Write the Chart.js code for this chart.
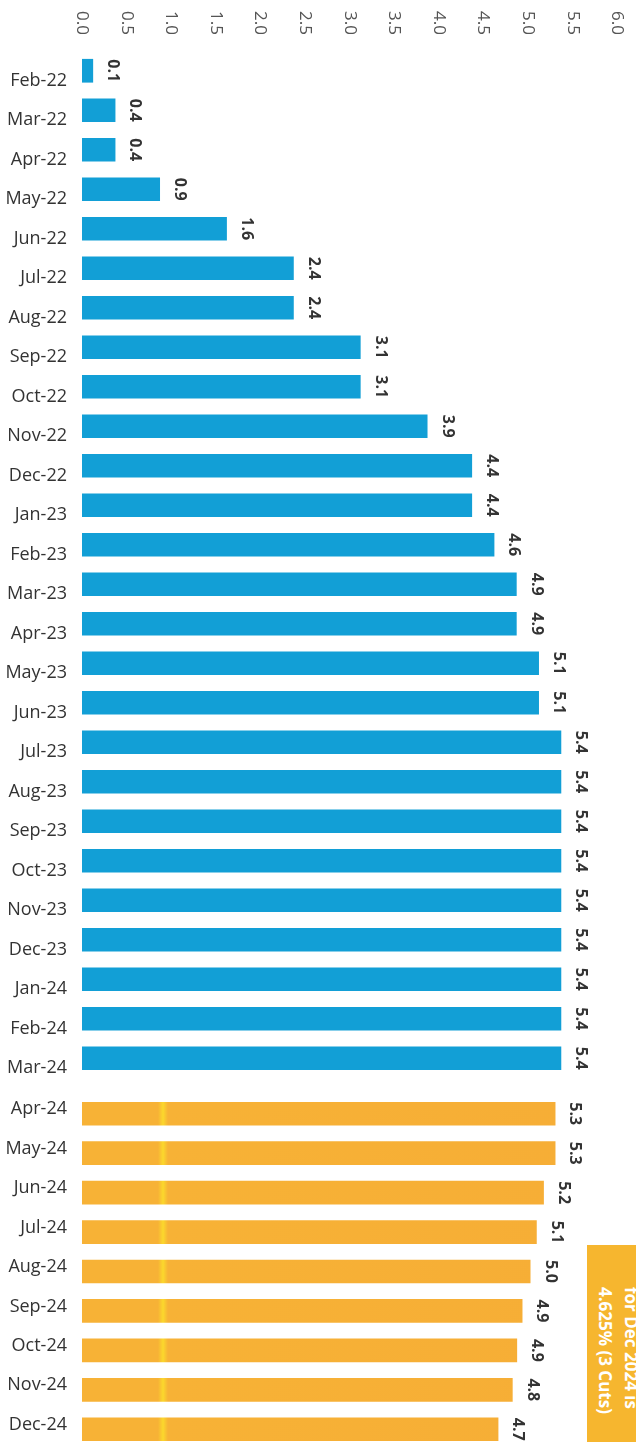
<!DOCTYPE html>
<html>
<head>
<meta charset="utf-8">
<script src="https://cdn.jsdelivr.net/npm/chart.js@4.4.1/dist/chart.umd.min.js"></script>
<style>
  html, body { margin: 0; padding: 0; background: #fff; }
  body { width: 636px; height: 1442px; position: relative; overflow: hidden; font-family: "Open Sans", sans-serif; }
  canvas { position: absolute; left: 0; }
  #actual { top: 0; }
  #forecast { top: 1085px; }
  .note {
    position: absolute; left: 587px; top: 1245px; width: 57px; height: 230px;
    box-sizing: border-box; padding-top: 42px;
    background: #f6b62f; color: #fff; font-weight: bold; font-size: 17px; line-height: 26px;
    writing-mode: vertical-rl; white-space: nowrap;
  }
</style>
</head>
<body>
<canvas id="actual" width="636" height="1080"></canvas>
<canvas id="forecast" width="636" height="366"></canvas>
<div class="note">for Dec 2024 is<br>4.625% (3 Cuts)</div>
<script>
// Данные: фактическая ставка
const actualMonths = ["Feb-22", "Mar-22", "Apr-22", "May-22", "Jun-22", "Jul-22", "Aug-22", "Sep-22", "Oct-22",
  "Nov-22", "Dec-22", "Jan-23", "Feb-23", "Mar-23", "Apr-23", "May-23", "Jun-23", "Jul-23", "Aug-23",
  "Sep-23", "Oct-23", "Nov-23", "Dec-23", "Jan-24", "Feb-24", "Mar-24"];
const actualRates = [0.125, 0.375, 0.375, 0.875, 1.625, 2.375, 2.375, 3.125, 3.125,
  3.875, 4.375, 4.375, 4.625, 4.875, 4.875, 5.125, 5.125, 5.375, 5.375,
  5.375, 5.375, 5.375, 5.375, 5.375, 5.375, 5.375];

// Прогноз
const forecastMonths = ["Apr-24", "May-24", "Jun-24", "Jul-24", "Aug-24", "Sep-24", "Oct-24", "Nov-24", "Dec-24"];
const forecastRates = [5.31, 5.31, 5.18, 5.10, 5.03, 4.94, 4.88, 4.83, 4.67];

// Подписи шкалы
const xTickLabels = ["0.0", "0.5", "1.0", "1.5", "2.0", "2.5", "3.0", "3.5", "4.0", "4.5", "5.0", "5.5", "6.0"];

// Подписи значений (повёрнуты)
const valueLabels = {
  id: "valueLabels",
  afterDatasetsDraw(chart) {
    const ctx = chart.ctx;
    const ds = chart.data.datasets[0];
    chart.getDatasetMeta(0).data.forEach((bar, i) => {
      ctx.save();
      ctx.translate(bar.x + 15, bar.y);
      ctx.rotate(Math.PI / 2);
      ctx.font = 'bold 16px "Open Sans"';
      ctx.fillStyle = "#333";
      ctx.textAlign = "center";
      ctx.textBaseline = "alphabetic";
      ctx.fillText(ds.data[i].toFixed(1), 0, 0);
      ctx.restore();
    });
  }
};

// Верхняя ось
const topAxis = {
  id: "topAxis",
  afterDraw(chart) {
    const xs = chart.scales.x;
    const ctx = chart.ctx;
    xTickLabels.forEach(t => {
      const px = xs.getPixelForValue(parseFloat(t));
      ctx.save();
      ctx.translate(px, 11);
      ctx.rotate(Math.PI / 2);
      ctx.font = '17px "Open Sans"';
      ctx.fillStyle = "#555";
      ctx.textAlign = "left";
      ctx.textBaseline = "middle";
      ctx.fillText(t, 0, 0);
      ctx.restore();
    });
  }
};

// Оранжевая заливка с жёлтой полосой (как в скане)
function orangeFill(context) {
  const ctx = context.chart.ctx;
  const g = ctx.createLinearGradient(0, 0, 636, 0);
  g.addColorStop(0, "#f7b236");
  g.addColorStop(158 / 636, "#f7b236");
  g.addColorStop(163 / 636, "#fbd82c");
  g.addColorStop(168 / 636, "#f7b236");
  g.addColorStop(1, "#f6ad36");
  return g;
}

function makeChart(id, labels, values, color, padTop, padBottom, labelOffset, plugins) {
  return new Chart(document.getElementById(id), {
    type: "bar",
    data: {
      labels: labels,
      datasets: [{ data: values, backgroundColor: color, categoryPercentage: 1, barPercentage: 0.6 }]
    },
    options: {
      indexAxis: "y",
      responsive: false,
      animation: false,
      devicePixelRatio: 1,
      layout: { padding: { top: padTop, bottom: padBottom, left: 0, right: 19 } },
      plugins: { legend: { display: false }, tooltip: { enabled: false } },
      scales: {
        x: { display: false, min: 0, max: 6 },
        y: {
          grid: { display: false, drawTicks: false },
          border: { display: false },
          ticks: { font: { family: "Open Sans", size: 18 }, color: "#333", padding: 15, labelOffset: labelOffset, autoSkip: false },
          afterFit(scale) {
            scale.width = 82;
            scale.paddingTop = 0;
            scale.paddingBottom = 0;
          }
        }
      }
    },
    plugins: plugins
  });
}

makeChart("actual", actualMonths, actualRates, "#129fd6", 51, 2, 10, [valueLabels, topAxis]);
makeChart("forecast", forecastMonths, forecastRates, orangeFill, 9, 2, -4.5, [valueLabels]);
</script>
</body>
</html>
